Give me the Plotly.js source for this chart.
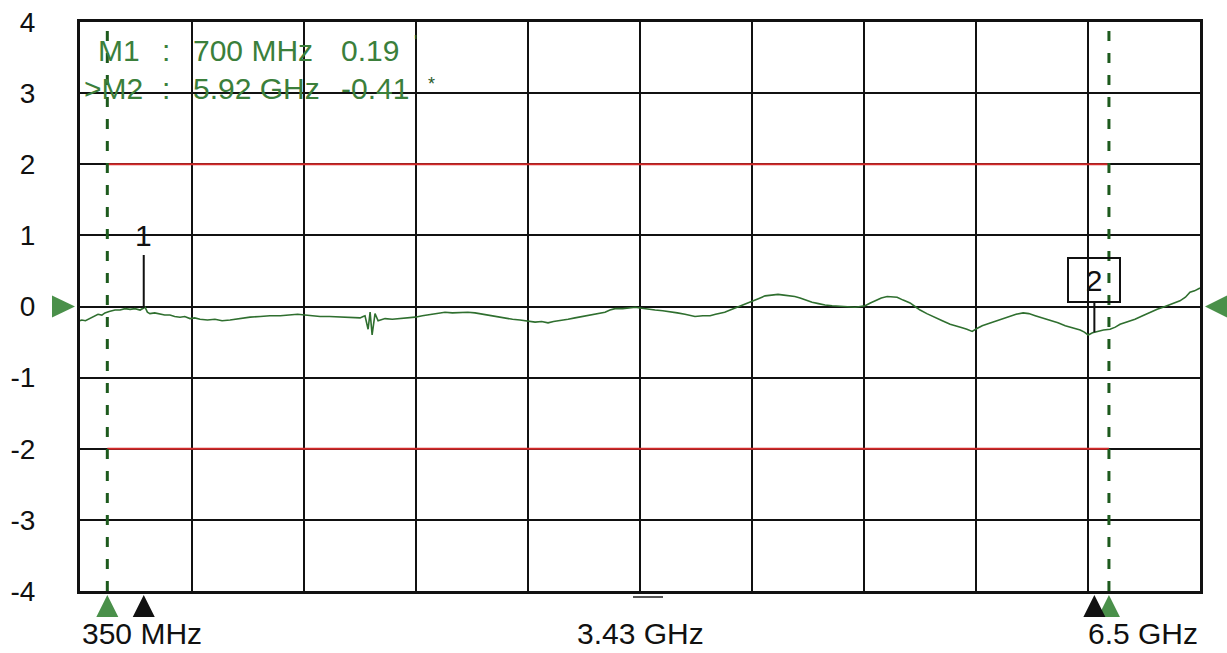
<!DOCTYPE html>
<html><head><meta charset="utf-8">
<script src="https://cdn.plot.ly/plotly-3.0.1.min.js"></script>
<style>html,body{margin:0;padding:0;background:#fff}#chart{width:1227px;height:653px}</style>
</head><body><div id="chart"></div>
<script>
// ---- data ----
const startGHz = 0.35, stopGHz = 6.5, centerGHz = 3.425;
const xDivisions = 10;
const yTickVals = [-4, -3, -2, -1, 0, 1, 2, 3, 4];
const yTickLabels = ["-4", "-3", "-2", "-1", "0", "1", "2", "3", "4"];
const axisLabels = ["350 MHz", "3.43 GHz", "6.5 GHz"];
const limitStartGHz = 0.5, limitStopGHz = 6.0;
const upperLimit = 2, lowerLimit = -2;
const refLevel = 0;
const markerNames = ["1", "2"];
const markerIds = ["M1", ">M2"];
const markerFreqGHz = [0.7, 5.92];
const markerFreqLabels = ["700 MHz", "5.92 GHz"];
const markerReadout = ["0.19", "-0.41"];
const markerSuffix = ["'", "*"];
const freqGHz = [0.35, 0.36, 0.38, 0.405, 0.43, 0.449, 0.47, 0.487, 0.51, 0.542, 0.57, 0.597, 0.625, 0.652, 0.68, 0.707, 0.72, 0.734, 0.76, 0.789, 0.815, 0.844, 0.87, 0.899, 0.925, 0.954, 0.98, 1.009, 1.05, 1.091, 1.13, 1.174, 1.2, 1.229, 1.255, 1.284, 1.34, 1.393, 1.45, 1.503, 1.545, 1.585, 1.63, 1.668, 1.72, 1.778, 1.83, 1.888, 1.905, 1.915, 1.932, 1.943, 1.954, 1.97, 1.987, 2.025, 2.065, 2.107, 2.15, 2.19, 2.23, 2.272, 2.31, 2.354, 2.395, 2.437, 2.48, 2.519, 2.56, 2.602, 2.64, 2.684, 2.725, 2.766, 2.81, 2.849, 2.885, 2.92, 2.95, 2.986, 3.03, 3.068, 3.11, 3.151, 3.19, 3.233, 3.26, 3.288, 3.33, 3.37, 3.4, 3.425, 3.47, 3.508, 3.55, 3.59, 3.63, 3.672, 3.7, 3.727, 3.77, 3.81, 3.84, 3.865, 3.89, 3.92, 3.95, 3.975, 4.01, 4.041, 4.075, 4.112, 4.15, 4.183, 4.215, 4.249, 4.275, 4.304, 4.335, 4.37, 4.405, 4.441, 4.48, 4.524, 4.565, 4.606, 4.635, 4.661, 4.69, 4.716, 4.75, 4.782, 4.81, 4.837, 4.87, 4.908, 4.935, 4.963, 5.0, 5.046, 5.085, 5.128, 5.16, 5.194, 5.22, 5.249, 5.275, 5.304, 5.34, 5.375, 5.415, 5.457, 5.49, 5.529, 5.56, 5.595, 5.635, 5.677, 5.72, 5.76, 5.8, 5.842, 5.865, 5.886, 5.91, 5.935, 5.97, 6.006, 6.035, 6.061, 6.1, 6.143, 6.185, 6.226, 6.265, 6.308, 6.35, 6.39, 6.42, 6.445, 6.47, 6.5];
const traceDb = [-0.2, -0.19, -0.2, -0.17, -0.14, -0.11, -0.12, -0.09, -0.07, -0.05, -0.05, -0.03, -0.04, -0.03, -0.05, -0.01, -0.08, -0.1, -0.09, -0.11, -0.12, -0.12, -0.14, -0.15, -0.14, -0.17, -0.16, -0.18, -0.19, -0.18, -0.2, -0.19, -0.18, -0.17, -0.16, -0.15, -0.14, -0.13, -0.13, -0.12, -0.11, -0.12, -0.13, -0.14, -0.14, -0.15, -0.15, -0.16, -0.14, -0.13, -0.32, -0.08, -0.4, -0.1, -0.2, -0.17, -0.18, -0.17, -0.16, -0.15, -0.13, -0.11, -0.1, -0.08, -0.09, -0.08, -0.08, -0.09, -0.11, -0.13, -0.14, -0.16, -0.18, -0.19, -0.21, -0.22, -0.21, -0.23, -0.21, -0.2, -0.18, -0.16, -0.14, -0.12, -0.1, -0.08, -0.05, -0.03, -0.03, -0.02, -0.01, -0.02, -0.04, -0.05, -0.06, -0.07, -0.09, -0.11, -0.12, -0.14, -0.13, -0.13, -0.11, -0.1, -0.08, -0.05, -0.02, 0.0, 0.04, 0.07, 0.11, 0.15, 0.16, 0.17, 0.16, 0.15, 0.14, 0.12, 0.09, 0.06, 0.04, 0.02, 0.01, 0.0, 0.0, -0.01, 0.0, 0.01, 0.05, 0.08, 0.12, 0.14, 0.14, 0.13, 0.09, 0.05, 0.0, -0.05, -0.1, -0.16, -0.2, -0.25, -0.27, -0.3, -0.32, -0.35, -0.31, -0.27, -0.24, -0.21, -0.17, -0.14, -0.11, -0.09, -0.1, -0.13, -0.16, -0.2, -0.23, -0.27, -0.3, -0.33, -0.36, -0.4, -0.37, -0.35, -0.33, -0.32, -0.29, -0.25, -0.22, -0.18, -0.13, -0.08, -0.04, 0.0, 0.04, 0.08, 0.13, 0.2, 0.22, 0.26];

// ---- helpers ----
function interp(f) {
  for (let i = 0; i < freqGHz.length - 1; i++) {
    if (f >= freqGHz[i] && f <= freqGHz[i + 1]) {
      const t = (f - freqGHz[i]) / (freqGHz[i + 1] - freqGHz[i]);
      return traceDb[i] + t * (traceDb[i + 1] - traceDb[i]);
    }
  }
  return traceDb[traceDb.length - 1];
}
const divStep = (stopGHz - startGHz) / xDivisions;
const xGrid = [];
for (let k = 0; k <= xDivisions; k++) xGrid.push(startGHz + k * divStep);

const green = '#2f6f2f';
const textGreen = '#3b7f3b';
const markGreen = '#4a904a';
const FONT = '"Liberation Sans", Arial, sans-serif';

const traces = [
  {x: [limitStartGHz, limitStopGHz], y: [upperLimit, upperLimit], mode: 'lines', line: {color: '#d42a2a', width: 2}, hoverinfo: 'skip'},
  {x: [limitStartGHz, limitStopGHz], y: [lowerLimit, lowerLimit], mode: 'lines', line: {color: '#d42a2a', width: 2}, hoverinfo: 'skip'},
  {x: [limitStartGHz, limitStartGHz], y: [yTickVals[0], yTickVals[yTickVals.length - 1]], mode: 'lines', line: {color: '#1d5a1d', width: 3, dash: '10px,12px'}, hoverinfo: 'skip'},
  {x: [limitStopGHz, limitStopGHz], y: [yTickVals[0], yTickVals[yTickVals.length - 1]], mode: 'lines', line: {color: '#1d5a1d', width: 3, dash: '10px,12px'}, hoverinfo: 'skip'},
  {x: freqGHz, y: traceDb, mode: 'lines', line: {color: green, width: 1.6}, hoverinfo: 'skip'}
];

const annotations = [];
annotations.push({xref: 'paper', yref: 'paper', x: 0, y: 0, xanchor: 'left', yanchor: 'top', yshift: -24, text: axisLabels[0], showarrow: false, font: {family: FONT, size: 30, color: '#111'}});
annotations.push({xref: 'x', yref: 'paper', x: centerGHz, y: 0, xanchor: 'center', yanchor: 'top', yshift: -24, text: axisLabels[1], showarrow: false, font: {family: FONT, size: 30, color: '#111'}});
annotations.push({xref: 'paper', yref: 'paper', x: 1, y: 0, xanchor: 'right', yanchor: 'top', yshift: -24, text: axisLabels[2], showarrow: false, font: {family: FONT, size: 30, color: '#111'}});

const rowShift = [-28, -66];
const idShift = [16, 2];
for (let i = 0; i < markerIds.length; i++) {
  const base = {xref: 'paper', yref: 'paper', x: 0, y: 1, yanchor: 'middle', xanchor: 'left', showarrow: false, yshift: rowShift[i], font: {family: FONT, size: 30, color: textGreen}};
  annotations.push(Object.assign({}, base, {text: markerIds[i], xshift: idShift[i]}));
  annotations.push(Object.assign({}, base, {text: ':', xshift: 80}));
  annotations.push(Object.assign({}, base, {text: markerFreqLabels[i], xshift: 111}));
  annotations.push(Object.assign({}, base, {text: markerReadout[i], xshift: 259}));
  annotations.push(Object.assign({}, base, {text: markerSuffix[i], xshift: 332 + i * 14, yshift: rowShift[i] + 8 - i * 4, font: {family: FONT, size: 18, color: '#2a5a2a'}}));
}
annotations.push({x: markerFreqGHz[0], y: interp(markerFreqGHz[0]), xref: 'x', yref: 'y', text: markerNames[0], showarrow: true, arrowhead: 0, arrowwidth: 2, arrowcolor: '#111', ax: 0, ay: -72, font: {family: FONT, size: 30, color: '#111'}, standoff: 0, borderpad: 2});
annotations.push({x: markerFreqGHz[1], y: interp(markerFreqGHz[1]), xref: 'x', yref: 'y', text: markerNames[1], showarrow: true, arrowhead: 0, arrowwidth: 2, arrowcolor: '#111', ax: 0, ay: -52, font: {family: FONT, size: 30, color: '#111'}, bordercolor: '#111', borderwidth: 2, width: 48, height: 40, bgcolor: 'rgba(255,255,255,0)', standoff: 0});

const shapes = [];
function tri(xa, xref, ya, yref, path, color) {
  shapes.push({type: 'path', xref: xref, yref: yref, xsizemode: 'pixel', ysizemode: 'pixel', xanchor: xa, yanchor: ya, path: path, fillcolor: color, line: {width: 0}, layer: 'above'});
}
const upTri = 'M -11 -26 L 0 -4 L 11 -26 Z';
tri(limitStartGHz, 'x', 0, 'paper', upTri, markGreen);
tri(limitStopGHz, 'x', 0, 'paper', upTri, markGreen);
tri(markerFreqGHz[0], 'x', 0, 'paper', upTri, '#111');
tri(markerFreqGHz[1], 'x', 0, 'paper', upTri, '#111');
// reference level arrows (anchored to paper edges so they are not clipped)
tri(0, 'paper', refLevel, 'y', 'M -28 11 L -5 0 L -28 -11 Z', markGreen);
tri(1, 'paper', refLevel, 'y', 'M 27 11 L 5 0 L 27 -11 Z', markGreen);
shapes.push({type: 'line', xref: 'x', yref: 'paper', xsizemode: 'pixel', ysizemode: 'pixel', xanchor: centerGHz, yanchor: 0, x0: -7, x1: 23, y0: -6, y1: -6, line: {color: '#555', width: 2}});

const layout = {
  width: 1227, height: 653,
  margin: {l: 80, r: 27, t: 22, b: 62},
  paper_bgcolor: '#fff', plot_bgcolor: '#fff',
  showlegend: false,
  xaxis: {range: [startGHz, stopGHz], tickvals: xGrid, showticklabels: false, ticks: '', showgrid: true, gridcolor: '#111', gridwidth: 2, zeroline: false, showline: true, mirror: true, linecolor: '#111', linewidth: 3, fixedrange: true},
  yaxis: {range: [yTickVals[0], yTickVals[yTickVals.length - 1]], tickvals: yTickVals, ticktext: yTickLabels, ticks: '', showgrid: true, gridcolor: '#111', gridwidth: 2, zeroline: false, showline: true, mirror: true, linecolor: '#111', linewidth: 3, ticklabelstandoff: 36, tickfont: {family: FONT, size: 28, color: '#111'}, fixedrange: true},
  annotations: annotations,
  shapes: shapes
};
Plotly.newPlot('chart', traces, layout, {displayModeBar: false, staticPlot: true});
</script>
</body></html>
